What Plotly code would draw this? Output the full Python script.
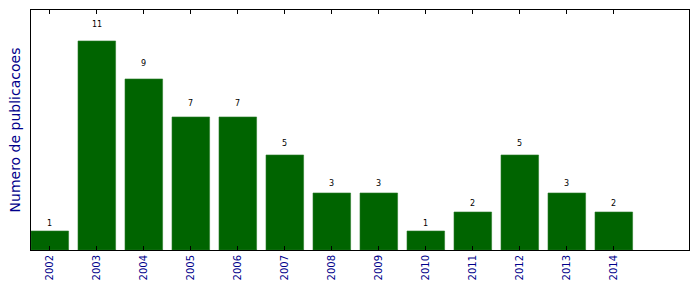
import plotly.graph_objects as go

years = ["2002", "2003", "2004", "2005", "2006", "2007", "2008",
         "2009", "2010", "2011", "2012", "2013", "2014"]
counts = [1, 11, 9, 7, 7, 5, 3, 3, 1, 2, 5, 3, 2]

idx = list(range(len(years)))

fig = go.Figure()
fig.add_trace(go.Bar(
    x=idx, y=counts, width=0.8,
    marker=dict(color="#006400", line=dict(color="#2a7a2a", width=0.6)),
    hoverinfo="skip",
))

for i, v in zip(idx, counts):
    fig.add_annotation(x=i, y=v * 1.05, text=str(v), showarrow=False,
                       yanchor="bottom", xanchor="center",
                       font=dict(family="DejaVu Sans", size=8, color="black"))

fig.update_layout(
    width=699, height=292,
    margin=dict(l=31, r=10, t=10, b=42),
    paper_bgcolor="white", plot_bgcolor="white",
    showlegend=False,
    font=dict(family="DejaVu Sans"),
    xaxis=dict(
        range=[-0.4, 13.6], tickmode="array", tickvals=idx, ticktext=years,
        tickangle=-90, ticks="inside", ticklen=4, tickcolor="black",
        showline=True, linecolor="black", linewidth=1, mirror="allticks",
        showgrid=False, zeroline=False,
        tickfont=dict(family="DejaVu Sans", size=10, color="#00008b"),
    ),
    yaxis=dict(
        range=[0, 12.63], showticklabels=False, ticks="",
        showline=True, linecolor="black", linewidth=1, mirror=True,
        showgrid=False, zeroline=False,
        title=dict(text="Numero de publicacoes", standoff=6,
                   font=dict(family="DejaVu Sans", size=14, color="#00008b")),
    ),
)

fig.write_html("out.html")
